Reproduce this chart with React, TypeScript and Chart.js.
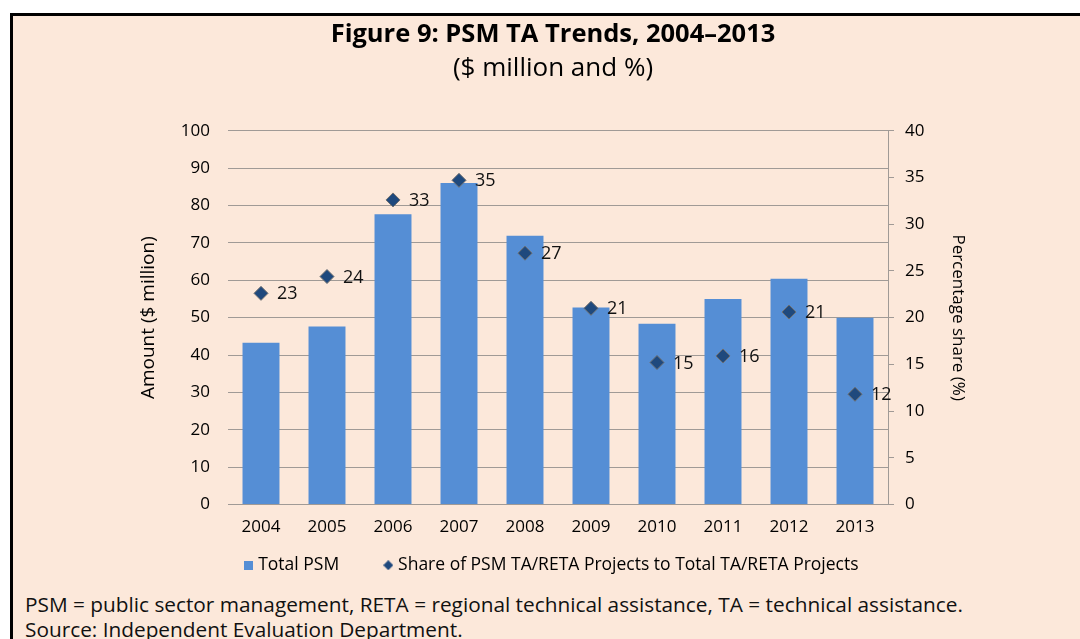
import { useEffect, useRef } from 'react';
import { Chart, registerables } from 'chart.js';

Chart.register(...registerables);

const years = ['2004', '2005', '2006', '2007', '2008', '2009', '2010', '2011', '2012', '2013'];
const totalPSM = [43.3, 47.6, 77.7, 86.0, 71.9, 52.7, 48.4, 55.0, 60.4, 50.0];
const sharePct = [22.6, 24.4, 32.6, 34.7, 26.9, 21.0, 15.2, 15.9, 20.6, 11.8];
const amountAxis = [0, 100, 10];
const shareAxis = [0, 40, 5];

const titleText = 'Figure 9: PSM TA Trends, 2004–2013';
const subtitleText = '($ million and %)';
const barLabel = 'Total PSM';
const pointLabel = 'Share of PSM TA/RETA Projects to Total TA/RETA Projects';
const leftAxisTitle = 'Amount ($ million)';
const rightAxisTitle = 'Percentage share (%)';
const footnote1 = 'PSM = public sector management, RETA = regional technical assistance, TA = technical assistance.';
const footnote2 = 'Source: Independent Evaluation Department.';

const BAR_COLOR = '#558ED5';
const POINT_COLOR = '#1F497D';
const GRID = '#A09A96';
const FONT = '"Open Sans", "Noto Sans", sans-serif';
const TITLE_FONT = '"Liberation Sans Narrow", "Open Sans", sans-serif';
const LEGEND_GAP = '\u2003\u2002\u2009';

export default function App() {
  const ref = useRef<HTMLCanvasElement | null>(null);

  useEffect(() => {
    if (!ref.current) return;

    const sq = document.createElement('canvas');
    sq.width = 9; sq.height = 9;
    const sctx = sq.getContext('2d')!;
    sctx.fillStyle = BAR_COLOR;
    sctx.fillRect(0, 0, 9, 9);

    const dm = document.createElement('canvas');
    dm.width = 10; dm.height = 10;
    const dctx = dm.getContext('2d')!;
    dctx.fillStyle = POINT_COLOR;
    dctx.beginPath();
    dctx.moveTo(5, 0); dctx.lineTo(10, 5); dctx.lineTo(5, 10); dctx.lineTo(0, 5);
    dctx.closePath(); dctx.fill();

    const pointLabels = {
      id: 'pointLabels',
      afterDatasetsDraw(chart: any) {
        const ctx = chart.ctx;
        const meta = chart.getDatasetMeta(1);
        ctx.save();
        ctx.font = `18px ${FONT}`;
        ctx.fillStyle = '#111';
        ctx.textAlign = 'left';
        ctx.textBaseline = 'middle';
        meta.data.forEach((pt: any, i: number) => {
          ctx.fillText(String(Math.round(sharePct[i])), pt.x + 16, pt.y + 1);
        });
        ctx.restore();
      },
    };

    const chart = new Chart(ref.current, {
      type: 'bar',
      data: {
        labels: years,
        datasets: [
          {
            type: 'bar',
            label: barLabel,
            data: totalPSM,
            backgroundColor: BAR_COLOR,
            borderWidth: 0,
            barPercentage: 0.56,
            categoryPercentage: 1,
            yAxisID: 'y',
            order: 1,
          },
          {
            type: 'line',
            label: pointLabel,
            data: sharePct,
            showLine: false,
            pointStyle: 'rectRot',
            pointRadius: 7,
            pointBackgroundColor: POINT_COLOR,
            pointBorderColor: '#6E6E6E',
            pointBorderWidth: 1,
            yAxisID: 'y1',
            order: 0,
          } as any,
        ],
      },
      options: {
        responsive: false,
        animation: false,
        layout: { padding: { left: 26, right: 0, top: 0, bottom: 55 } },
        plugins: {
          tooltip: { enabled: false },
          title: {
            display: true,
            text: titleText,
            color: '#000',
            font: { family: TITLE_FONT, size: 25.5, weight: 'bold' },
            padding: { top: 19, bottom: 3 },
          },
          subtitle: {
            display: true,
            text: subtitleText,
            color: '#000',
            font: { family: TITLE_FONT, size: 26, weight: 'normal' },
            padding: { top: 0, bottom: 47 },
          },
          legend: {
            position: 'bottom',
            labels: {
              usePointStyle: true,
              boxWidth: 2,
              boxHeight: 9,
              padding: 19,
              color: '#000',
              font: { family: FONT, size: 17.5 },
              generateLabels: () => [
                { text: barLabel + LEGEND_GAP, pointStyle: sq, fillStyle: BAR_COLOR, strokeStyle: BAR_COLOR, lineWidth: 0, hidden: false, datasetIndex: 0 } as any,
                { text: pointLabel, pointStyle: dm, fillStyle: POINT_COLOR, strokeStyle: POINT_COLOR, lineWidth: 0, hidden: false, datasetIndex: 1 } as any,
              ],
            },
          },
        },
        scales: {
          x: {
            grid: { display: false, drawTicks: false },
            border: { display: false },
            ticks: { color: '#000', padding: 12, font: { family: FONT, size: 17 } },
            afterFit: (s: any) => { s.height = 33; },
          },
          y: {
            position: 'left',
            min: amountAxis[0],
            max: amountAxis[1],
            ticks: { stepSize: amountAxis[2], color: '#000', padding: 18, font: { family: FONT, size: 17 } },
            grid: { color: GRID, drawTicks: false },
            border: { display: false },
            title: {
              display: true,
              text: leftAxisTitle,
              color: '#000',
              font: { family: FONT, size: 19 },
              padding: { top: 111, bottom: 0 },
            },
            afterFit: (s: any) => { s.width = 202; },
          },
          y1: {
            position: 'right',
            min: shareAxis[0],
            max: shareAxis[1],
            ticks: { stepSize: shareAxis[2], color: '#000', padding: 11, font: { family: FONT, size: 17 } },
            grid: { drawOnChartArea: false, color: GRID, tickLength: 6 },
            border: { display: true, color: GRID },
            title: {
              display: true,
              text: rightAxisTitle,
              color: '#000',
              font: { family: FONT, size: 17 },
              padding: { top: 112, bottom: 0 },
            },
            afterFit: (s: any) => { s.width = 192; },
          },
        },
      } as any,
      plugins: [pointLabels],
    });
    return () => chart.destroy();
  }, []);

  return (
    <div style={{ position: 'fixed', left: 0, top: 0, width: 1080, height: 639, background: '#fff', overflow: 'hidden' }}>
      <div
        style={{
          position: 'absolute', left: 10, top: 13, width: 1120, height: 700,
          border: '3px solid #000', background: '#FCE8DA', boxSizing: 'border-box',
        }}
      />
      <div
        style={{
          position: 'absolute', left: 25, top: 592, fontFamily: FONT, fontSize: 20.8,
          lineHeight: '25px', color: '#111', whiteSpace: 'nowrap',
        }}
      >
        <div>{footnote1}</div>
        <div>{footnote2}</div>
      </div>
      <canvas ref={ref} width={1080} height={639} style={{ position: 'absolute', left: 0, top: 0, display: 'block' }} />
    </div>
  );
}
